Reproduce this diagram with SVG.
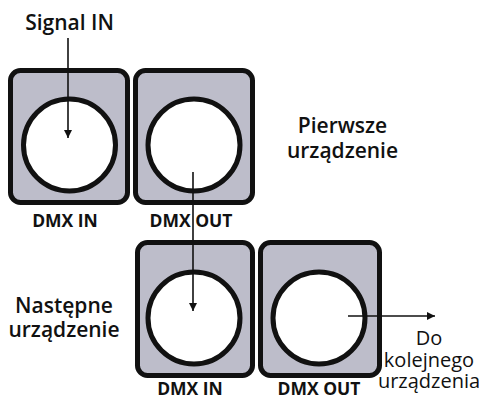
<svg xmlns="http://www.w3.org/2000/svg" width="479" height="397" viewBox="0 0 479 397">
<defs>
<marker id="ah" viewBox="0 0 10 10" refX="10" refY="5" markerWidth="8" markerHeight="8" markerUnits="userSpaceOnUse" orient="auto"><path d="M0,0 L10,5 L0,10 z" fill="#111"/></marker>
<style>
.box{fill:#bdbdca;stroke:#111;stroke-width:5}
.hole{fill:#fff;stroke:#111;stroke-width:5}
.lbl{font-family:"Open Sans","Liberation Sans",sans-serif;font-weight:bold;font-size:17.5px;fill:#111;text-anchor:middle}
.big{font-family:"Open Sans","Liberation Sans",sans-serif;font-weight:600;font-size:21px;fill:#111;text-anchor:middle}
.sm{font-family:"Open Sans","Liberation Sans",sans-serif;font-size:20px;fill:#111;text-anchor:middle}
.line{stroke:#111;stroke-width:1.6;fill:none;marker-end:url(#ah)}
</style>
</defs>
<g id="dev1-in"><rect class="box" x="10.5" y="70.5" width="117" height="132" rx="10"/><circle class="hole" cx="69.5" cy="145" r="46"/><text class="lbl" x="65" y="227">DMX IN</text></g>
<g id="dev1-out"><rect class="box" x="135.5" y="70.5" width="117" height="132" rx="10"/><circle class="hole" cx="194" cy="145" r="46"/><text class="lbl" x="191" y="227">DMX OUT</text></g>
<g id="dev2-in"><rect class="box" x="137.5" y="242.5" width="115" height="133" rx="10"/><circle class="hole" cx="194" cy="318" r="46"/><text class="lbl" x="190" y="395">DMX IN</text></g>
<g id="dev2-out"><rect class="box" x="260.5" y="242.5" width="119" height="133" rx="10"/><circle class="hole" cx="319" cy="318" r="46"/><text class="lbl" x="319" y="395">DMX OUT</text></g>
<g id="texts">
<text class="big" x="69.5" y="30">Signal IN</text>
<text class="big" x="342.5" y="133">Pierwsze</text>
<text class="big" x="342.5" y="158">urządzenie</text>
<text class="big" x="64" y="313">Następne</text>
<text class="big" x="64" y="337">urządzenie</text>
<text class="sm" x="429" y="345">Do</text>
<text class="sm" x="429" y="367">kolejnego</text>
<text class="sm" x="429" y="388">urządzenia</text>
</g>
<g id="connectors">
<line class="line" x1="68" y1="38" x2="68" y2="138"/>
<line class="line" x1="193" y1="172" x2="193" y2="311"/>
<line class="line" x1="348" y1="316" x2="435" y2="316"/>
</g>
</svg>
